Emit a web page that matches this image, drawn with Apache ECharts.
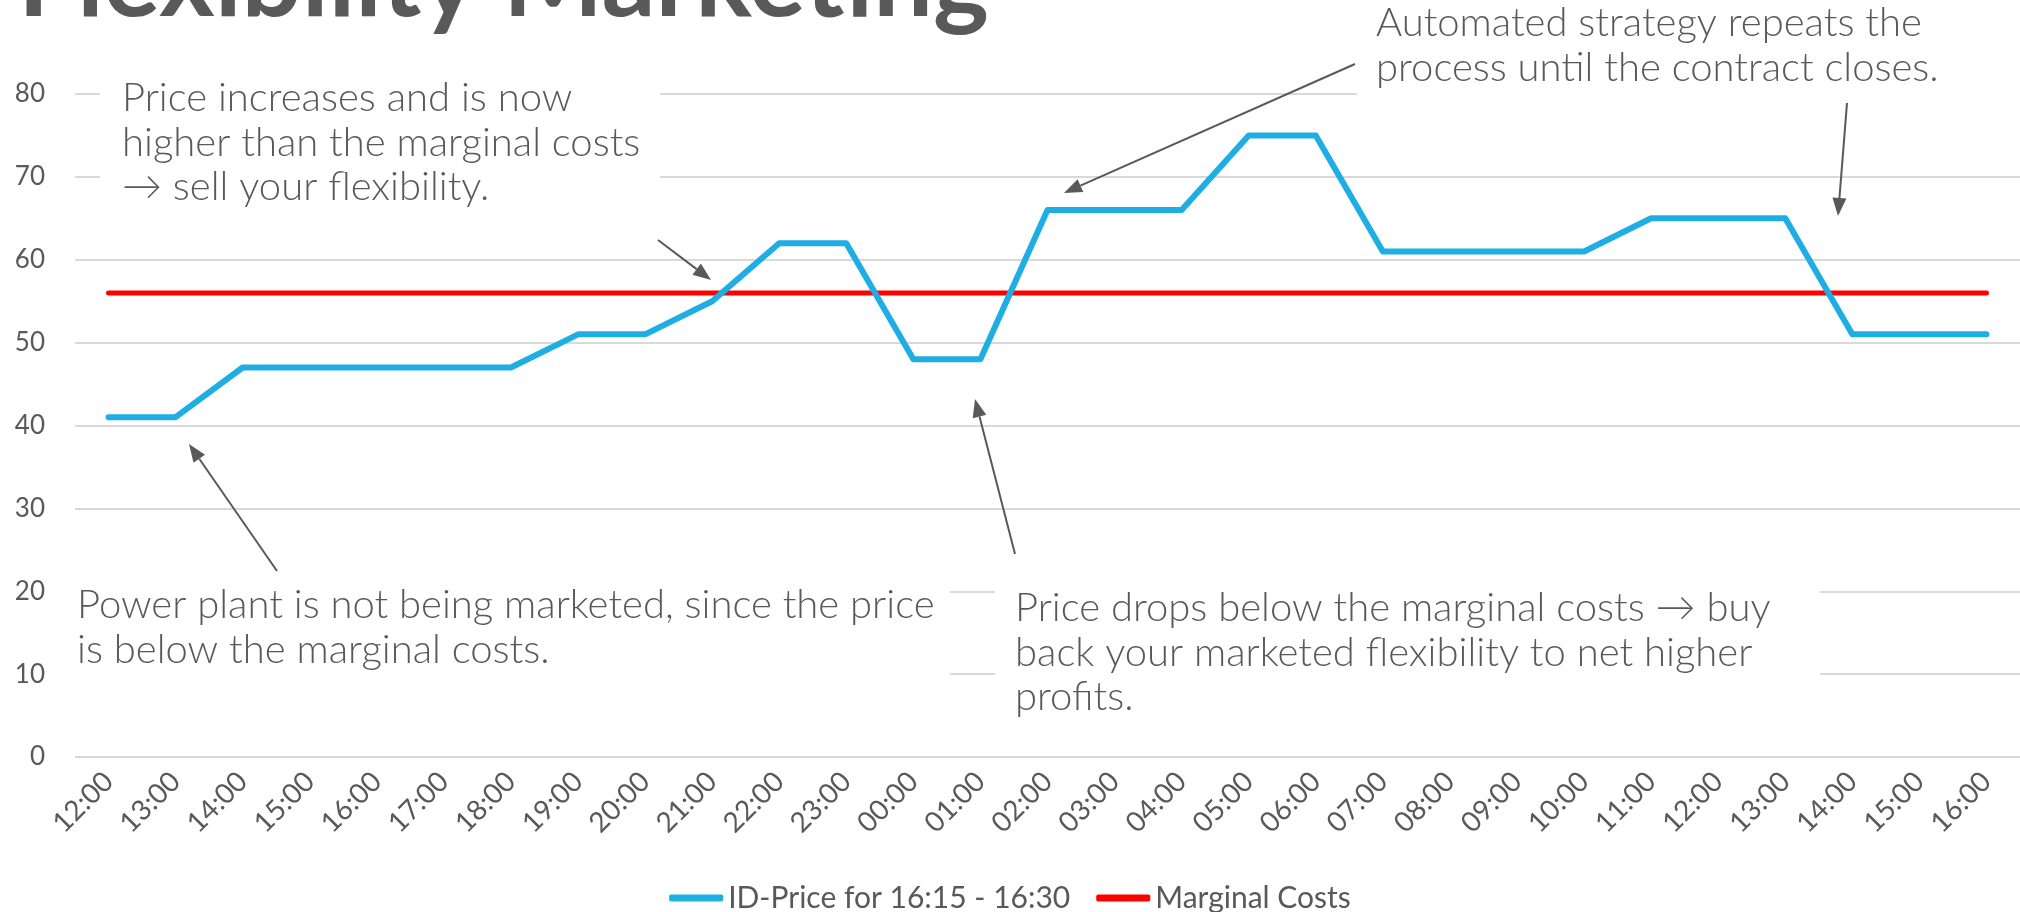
<!DOCTYPE html>
<html>
<head>
<meta charset="utf-8">
<script src="https://cdn.jsdelivr.net/npm/echarts@6/dist/echarts.min.js"></script>
<style>
  html, body { margin: 0; padding: 0; background: #fff; }
  #chart { width: 2020px; height: 912px; }
</style>
</head>
<body>
<div id="chart"></div>
<script>
const hours = ['12:00', '13:00', '14:00', '15:00', '16:00', '17:00', '18:00', '19:00', '20:00', '21:00',
  '22:00', '23:00', '00:00', '01:00', '02:00', '03:00', '04:00', '05:00', '06:00', '07:00',
  '08:00', '09:00', '10:00', '11:00', '12:00', '13:00', '14:00', '15:00', '16:00']
const idPrice = [41, 41, 47, 47, 47, 47, 47, 51, 51, 55, 62, 62, 48, 48, 66, 66, 66, 75, 75, 61,
  61, 61, 61, 65, 65, 65, 51, 51, 51]
const marginalCosts = [56, 56, 56, 56, 56, 56, 56, 56, 56, 56, 56, 56, 56, 56, 56, 56, 56, 56, 56, 56,
  56, 56, 56, 56, 56, 56, 56, 56, 56]
const seriesNames = ['ID-Price for 16:15 - 16:30', 'Marginal Costs']

const grey = '#595959'
const noteFont = '300 40px Lato'

// callout text boxes (white boxes knock out the gridlines behind them)
function note(box, x, y, text) {
  return [
    { type: 'rect', z: 10, shape: box, style: { fill: '#fff' } },
    { type: 'text', z: 11, x, y, style: { text, font: noteFont, fill: grey, lineHeight: 44.5, verticalAlign: 'top' } },
  ]
}

function arrow(x1, y1, x2, y2) {
  const a = Math.atan2(y2 - y1, x2 - x1)
  const len = 18
  const w = 7
  const bx = x2 - len * Math.cos(a)
  const by = y2 - len * Math.sin(a)
  const px = -Math.sin(a) * w
  const py = Math.cos(a) * w
  return [
    { type: 'line', z: 12, shape: { x1, y1, x2: bx, y2: by }, style: { stroke: grey, lineWidth: 2 } },
    { type: 'polygon', z: 12, shape: { points: [[x2, y2], [bx + px, by + py], [bx - px, by - py]] }, style: { fill: grey } },
  ]
}

const chart = echarts.init(document.getElementById('chart'))

chart.setOption({
  animation: false,
  backgroundColor: '#fff',
  grid: { left: 75, right: 0, top: 94, bottom: 155, containLabel: false },
  legend: {
    data: seriesNames,
    left: 'center',
    top: 878,
    icon: 'roundRect',
    itemWidth: 54,
    itemHeight: 7,
    itemGap: 26,
    textStyle: { fontFamily: 'Lato', fontSize: 30, color: grey },
  },
  xAxis: {
    type: 'category',
    data: hours,
    boundaryGap: true,
    axisLine: { show: false },
    axisTick: { show: false },
    axisLabel: { rotate: 45, margin: 20, interval: 0, fontFamily: 'Lato', fontSize: 28, color: grey },
  },
  yAxis: {
    type: 'value',
    min: 0,
    max: 80,
    interval: 10,
    axisLine: { show: false },
    axisTick: { show: false },
    axisLabel: { margin: 30, fontFamily: 'Lato', fontSize: 26, color: grey },
    splitLine: { lineStyle: { color: '#d9d9d9', width: 2 } },
  },
  series: [
    {
      name: seriesNames[0],
      type: 'line',
      data: idPrice,
      symbol: 'none',
      z: 3,
      lineStyle: { color: '#1eaee3', width: 6, cap: 'round', join: 'round' },
      itemStyle: { color: '#1eaee3' },
    },
    {
      name: seriesNames[1],
      type: 'line',
      data: marginalCosts,
      symbol: 'none',
      z: 2,
      lineStyle: { color: '#ff0000', width: 5, cap: 'round' },
      itemStyle: { color: '#ff0000' },
    },
  ],
  graphic: [
    {
      type: 'text', z: 11, x: 18, y: -18,
      style: { text: 'Flexibility Marketing', font: 'bold 106px Lato', fill: grey, verticalAlign: 'middle' },
    },
    ...note({ x: 100, y: 60, width: 560, height: 155 }, 122, 76,
      'Price increases and is now\nhigher than the marginal costs\n\u2192 sell your flexibility.'),
    ...note({ x: 1357, y: 0, width: 663, height: 110 }, 1376, 1,
      'Automated strategy repeats the\nprocess until the contract closes.'),
    ...note({ x: 75, y: 575, width: 875, height: 120 }, 77, 583,
      'Power plant is not being marketed, since the price\nis below the marginal costs.'),
    ...note({ x: 995, y: 575, width: 825, height: 160 }, 1015, 586,
      'Price drops below the marginal costs \u2192 buy\nback your marketed flexibility to net higher\nprofits.'),
    ...arrow(277, 571, 189, 444),
    ...arrow(1015, 554, 975, 399),
    ...arrow(658, 240, 711, 280),
    ...arrow(1355, 64, 1064, 193),
    ...arrow(1847, 103, 1838, 216),
  ],
})
</script>
</body>
</html>
